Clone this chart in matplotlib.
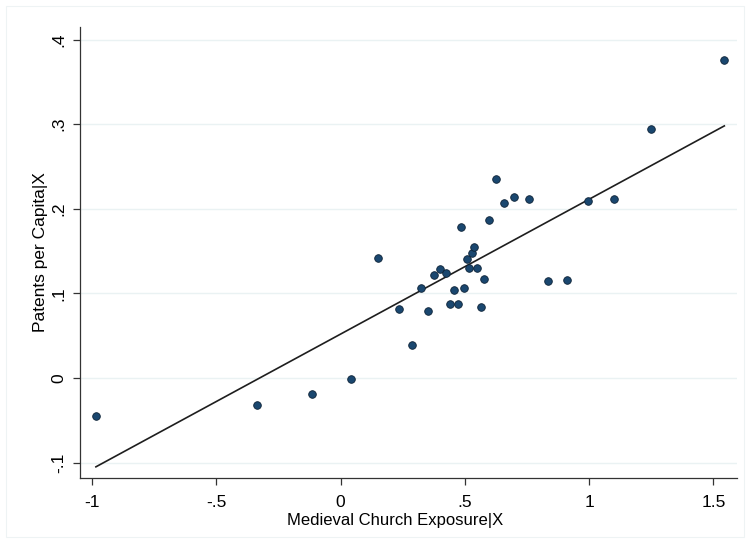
import numpy as np
import matplotlib
matplotlib.use("Agg")
import matplotlib.pyplot as plt
from matplotlib.patches import Rectangle

plt.rcParams['font.family'] = ['Liberation Sans', 'DejaVu Sans']

# Data
church_exposure = [-0.985, -0.336, -0.117, 0.041, 0.152, 0.236, 0.286, 0.322, 0.351,
                   0.377, 0.401, 0.424, 0.440, 0.456, 0.471, 0.484, 0.495, 0.507,
                   0.516, 0.527, 0.538, 0.548, 0.563, 0.578, 0.598, 0.624, 0.657,
                   0.697, 0.757, 0.835, 0.911, 0.995, 1.100, 1.250, 1.544]
patents = [-0.0445, -0.0315, -0.0194, -0.0014, 0.1417, 0.0818, 0.0390, 0.1063, 0.0787,
           0.1220, 0.1287, 0.1240, 0.0874, 0.1039, 0.0874, 0.1783, 0.1063, 0.1401,
           0.1299, 0.1472, 0.1554, 0.1303, 0.0842, 0.1165, 0.1873, 0.2350, 0.2067,
           0.2138, 0.2118, 0.1146, 0.1153, 0.2098, 0.2114, 0.2941, 0.3756]

# Fitted line endpoints
fit_x = [-0.985, 1.544]
fit_y = [-0.105, 0.298]

x_ticks = [-1, -0.5, 0, 0.5, 1, 1.5]
x_tick_labels = ['-1', '-.5', '0', '.5', '1', '1.5']
y_ticks = [-0.1, 0, 0.1, 0.2, 0.3, 0.4]
y_tick_labels = ['-.1', '0', '.1', '.2', '.3', '.4']

fig = plt.figure(figsize=(7.5, 5.43), dpi=100)
fig.patch.set_facecolor('white')
fig.patches.append(Rectangle((6 / 750, 6 / 543), 738 / 750, 531 / 543,
                             transform=fig.transFigure, fill=False,
                             edgecolor='#eef3f4', linewidth=0.8))

ax = fig.add_axes([80 / 750, 1 - 478 / 543, 657 / 750, 451 / 543])
ax.set_xlim(-1.049, 1.595)
ax.set_ylim(-0.1182, 0.4149)

for yv in y_ticks:
    ax.axhline(yv, color='#eaf2f3', linewidth=1.0, zorder=0)

ax.plot(fit_x, fit_y, color='#1e1e1e', linewidth=1.2, zorder=2)
ax.scatter(church_exposure, patents, s=30, facecolor='#1a476f',
           edgecolor='#0d2236', linewidth=0.6, zorder=3)

ax.set_xticks(x_ticks)
ax.set_xticklabels(x_tick_labels)
ax.set_yticks(y_ticks)
ax.set_yticklabels(y_tick_labels, rotation=90, va='center')

for side in ['top', 'right']:
    ax.spines[side].set_visible(False)
for side in ['left', 'bottom']:
    ax.spines[side].set_color('#333333')
    ax.spines[side].set_linewidth(0.9)

ax.tick_params(axis='both', direction='out', length=5, width=0.9,
               color='#333333', labelsize=12.5, labelcolor='black')
ax.tick_params(axis='x', pad=7)
ax.tick_params(axis='y', pad=5)

ax.set_xlabel('Medieval Church Exposure|X', fontsize=12)
ax.xaxis.set_label_coords(0.479, -0.0953, transform=ax.transAxes)
ax.xaxis.label.set_va('center')
ax.set_ylabel('Patents per Capita|X', fontsize=12.5, labelpad=2)

fig.savefig('out.png', dpi=100, facecolor='white')
